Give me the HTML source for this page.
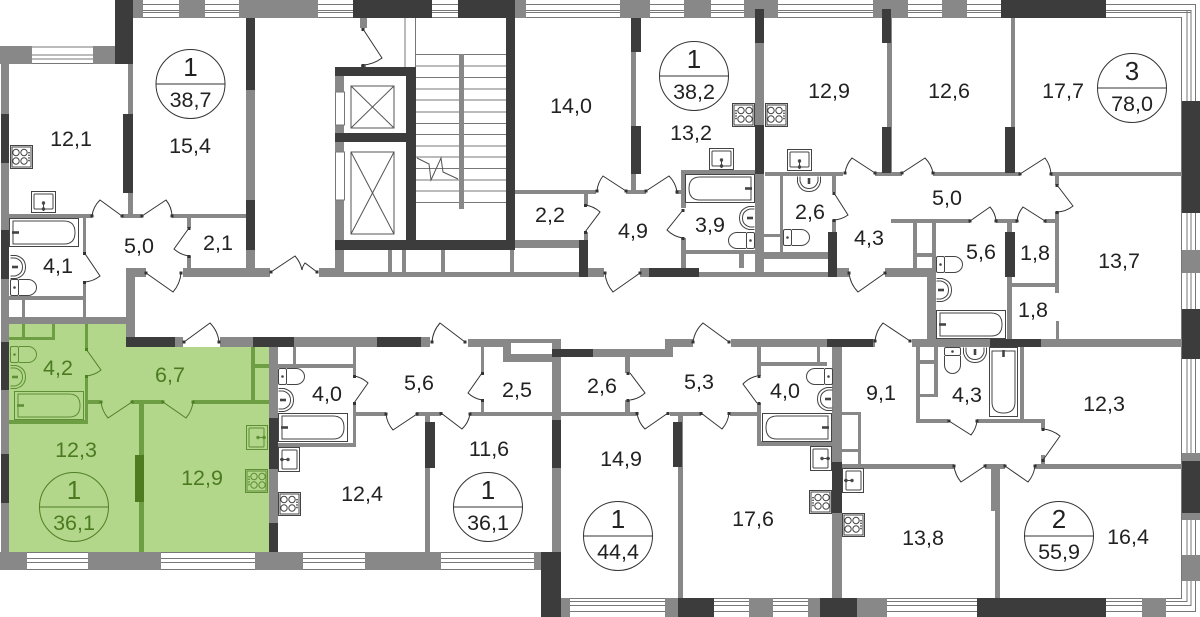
<!DOCTYPE html>
<html><head><meta charset="utf-8"><style>
html,body{margin:0;padding:0;background:#fff}
svg{display:block}
text{font-family:"Liberation Sans",sans-serif;font-size:21.5px;text-anchor:middle;fill:#222;stroke:none}
.g text,text.g{fill:#4c7a20}
text.b{font-size:26px}
</style></head><body>
<svg width="1200" height="617" viewBox="0 0 1200 617" xmlns="http://www.w3.org/2000/svg">
<defs>
<g id="stove" fill="none" stroke-width="1"><rect x=".5" y=".5" width="22" height="23"/><rect x="2" y="2" width="19" height="20"/><circle cx="6" cy="7.500" r="3.200"/><circle cx="14" cy="7.500" r="3.200"/><circle cx="6" cy="16" r="3.200"/><circle cx="14" cy="16" r="3.200"/><path d="M19 7v10" stroke-width="1.600" stroke-dasharray="1.400 1.200"/></g>
<g id="sink" fill="none" stroke-width="1"><rect x=".5" y=".5" width="24" height="21"/><rect x="3" y="3" width="19" height="15" rx="1"/><path d="M12.500 11v9"/><circle cx="12.500" cy="12" r="1.200"/><circle cx="12.500" cy="18" r="1.200"/></g>
<g id="bath" fill="none" stroke-width="1"><rect x=".5" y=".5" width="69" height="28"/><path d="M4 3H55Q66 3 66 14.500T55 26H4Z"/><path d="M3 14.500H10" stroke-width="2.600"/></g>
<g id="toilet" fill="none" stroke-width="1"><rect x=".5" y=".5" width="8" height="16" rx="1.500"/><path d="M9 .5H18A8.500 8 0 0 1 18 16.500H9"/><circle cx="4.500" cy="8.500" r=".8" fill="#444"/></g>
<g id="basin" fill="none" stroke-width="1"><path d="M.5 .5H6Q15.500 3 15.500 12T6 23.500H.5"/><path d="M.5 3H5Q12.500 5 12.500 12T5 21H.5"/><path d="M2 12H8" stroke-width="2.600"/></g>
</defs>

<polygon points="9,324 126,324 126,347 269,347 269,552 9,552" fill="#b2d68a"/>

<!-- window lines -->
<path fill="none" stroke="#777" stroke-width="1" d="M133 4.500H1195.500V611.500H561M133 10.500H1191V605.500H561M133 12.500H1187V601.500H561M133 17.500H1181.500V598.500H561M1187 10.500H1191V12.500H1187Z
M27 552.500H534M27 558.500H534M27 562.500H534M27 569.500H534
M32 47H93M32 55H93M32 59H93M32 63.500H93
M405 18V67M415.500 18V67"/>
<!-- stairs -->
<path fill="none" stroke="#777" stroke-width="1" d="M416 54.500H506M416 66H506M416 77.500H506M416 89H506M416 100H506M416 112H506M416 123.500H506M416 134.500H506M416 146H506M416 157H506M416 168.500H506M416 180H506M416 191H506M416 202.500H506"/>

<!-- gray walls -->
<path fill="#888" d="M133 0H143V18H133ZM179 0H205V18H179ZM239 0H318V18H239ZM515 0H526V18H515ZM620 0H650V18H620ZM684 0H711V18H684ZM744 0H778V18H744ZM873 0H908V18H873ZM942 0H967V18H942Z
M0 46H32V64H0ZM93 46H115V64H93ZM1 64H9V552H1Z
M128 64H133V215H128ZM246 18H255V272H246ZM9 214H92V218H9ZM122 214H142V218H122ZM172 214H246V218H172ZM83 218H86V253H83ZM83 282H86V300H83ZM9 296H83V300H9ZM22 300H25V317H22ZM83 300H86V317H83ZM9 317H126V324H9ZM126 272H135V339H126ZM187 218H191V228H187ZM187 256H191V268H187ZM126 268H146V277H126ZM183 268H270V277H183ZM319 268H335V277H319ZM335 76H344V272H335ZM388 250H392V272H388ZM402 250H406V272H402ZM441 250H445V272H441ZM510 250H514V272H510ZM335 272H579V277H335ZM515 240H579V248H515ZM360 18H367V28H360ZM361 65H366V67H361ZM459 54H464V209H459Z
M515 190H596V194H515ZM631 18H636V190H631ZM626 190H646V194H626ZM676 190H686V194H676ZM681 170H757V174H681ZM681 174H686V208H681ZM681 238H686V268H681ZM686 250H757V254H686ZM739 254H744V268H739ZM584 194H588V205H584ZM584 232H588V240H584ZM588 268H604V277H588ZM640 268H649V277H640ZM699 272H836V277H699ZM755 9H764V277H755Z
M765 172H843V176H765ZM780 176H783V252H780ZM764 234H780V237H764ZM764 252H828V259H764ZM832 176H836V192H832ZM832 220H836V232H832ZM837 268H849V277H837ZM885 268H932V277H885ZM927 268H936V347H927ZM875 172H902V176H875ZM933 172H1020V176H933ZM1051 172H1182V176H1051ZM887 18H892V173H887ZM1011 18H1015V173H1011ZM1055 176H1059V185H1055ZM1055 212H1059V293H1055ZM1056 321H1059V339H1056ZM891 219H970V223H891ZM996 219H1017V223H996ZM1045 219H1059V223H1045ZM913 223H917V268H913ZM932 223H936V270H932ZM917 253H932V257H917ZM1007 223H1012V347H1007ZM1012 283H1056V287H1012Z
M175 337H183V347H175ZM220 337H253V347H220ZM294 337H377V347H294ZM421 337H430V347H421ZM468 339H503V347H468ZM503 339H511V362H503ZM511 354H552V362H511ZM511 339H561V343H511ZM552 339H561V598H552ZM593 349H673V357H593ZM665 339H673V357H665ZM673 339H693V347H673ZM731 339H827V347H731ZM873 339H875V347H873ZM912 339H990V347H912ZM1041 339H1182V347H1041Z
M832 347H842V598H832ZM817 347H820V362H817ZM757 347H761V376H757ZM761 362H827V366H761ZM757 403H761V445H757ZM757 441H832V446H757ZM842 412H861V415H842ZM858 412H861V465H858ZM842 449H858V452H842ZM842 464H954V469H842ZM985 464H1005V469H985ZM991 469H1000V511H991ZM995 511H1000V598H995ZM1035 464H1182V469H1035ZM1041 455H1045V464H1041ZM1041 420H1045V429H1041ZM916 419H948V423H916ZM977 419H1045V423H977ZM916 347H920V423H916ZM934 347H938V397H934ZM920 394H938V397H920ZM920 360H938V364H920ZM1020 347H1024V420H1020Z
M269 347H278V552H269ZM293 347H296V366H293ZM278 364H354V368H278ZM353 347H356V376H353ZM353 403H356V447H353ZM278 443H356V447H278ZM356 412H386V416H356ZM416 412H441V416H416ZM470 412H637V416H470ZM670 412H701V416H670ZM730 412H757V416H730ZM481 347H484V373H481ZM481 400H484V414H481ZM625 357H630V373H625ZM625 400H630V412H625ZM425 416H430V553H425ZM678 416H683V598H678Z
M0 552H27V570H0ZM88 552H161V570H88ZM255 552H303V570H255ZM365 552H441V570H365ZM534 552H541V570H534Z
M561 598H570V617H561ZM665 598H678V617H665ZM749 598H773V617H749ZM808 598H820V617H808ZM857 598H887V617H857ZM1142 598H1166V617H1142Z
M1182 250H1200V273H1182ZM1182 453H1200V461H1182ZM1182 513H1200V520H1182ZM1182 555H1200V581H1182Z"/>

<!-- dark walls -->
<path fill="#3c3c3c" d="M115 0H133V64H115ZM353 0H432V18H353ZM458 0H515V18H458ZM1001 0H1106V18H1001Z
M1 114H9V163H1ZM1 230H9V279H1ZM1 342H9V390H1ZM1 454H9V503H1Z
M123 114H133V193H123ZM246 18H255V90H246ZM246 200H255V250H246Z
M335 67H416V76H335ZM335 133H416V142H335ZM335 240H515V250H335ZM406 67H416V250H406ZM506 18H515V250H506Z
M631 18H641V52H631ZM631 126H641V174H631ZM579 240H588V277H579ZM649 268H699V277H649ZM755 9H764V43H755ZM755 125H764V174H755ZM828 232H837V277H828Z
M882 9H891V43H882ZM882 127H891V173H882ZM1005 127H1015V173H1005ZM1005 232H1015V277H1005Z
M126 337H175V347H126ZM253 337H294V347H253ZM377 337H421V347H377ZM552 420H561V468H552ZM552 349H593V357H552ZM827 339H873V347H827ZM990 339H1041V347H990Z
M832 462H842V513H832ZM269 418H278V469H269ZM269 523H278V552H269ZM425 422H435V468H425ZM673 422H682V467H673Z
M541 552H561V617H541ZM678 598H714V617H678ZM820 598H857V617H820ZM977 598H1106V617H977Z
M1182 101H1200V213H1182ZM1182 309H1200V359H1182ZM1182 461H1200V513H1182Z"/>

<!-- green walls -->
<path fill="#6e9e44" d="M22 324H25V337H22ZM52 324H55V340H52ZM9 337H55V340H9ZM85 324H88V349H85ZM85 376H88V424H85ZM9 420H88V424H9ZM88 400H100V404H88ZM132 400H163V404H132ZM193 400H269V404H193ZM139 404H144V552H139ZM251 347H255V400H251ZM255 364H269V368H255Z"/>
<rect x="135" y="455" width="9" height="47" fill="#4e7a20"/>

<!-- elevators -->
<g fill="#fff" stroke="#777" stroke-width="1"><rect x="335.500" y="92" width="9" height="33"/><rect x="335.500" y="152" width="9" height="48"/></g>
<g fill="none" stroke="#555" stroke-width="1"><path d="M351 86H394V128H351ZM351 86L394 128M394 86L351 128M351 152H394V234H351ZM351 152L394 234M394 152L351 234"/>
<path d="M417 158L429 164L431 180L441 158L443 172L458 179"/></g>

<!-- doors -->
<path fill="none" stroke="#333" stroke-width="1" d="M122 216L100 200A27 27 0 0 0 92 216M142 216L166 200A27 27 0 0 1 172 216M84.500 253L100 276A28 28 0 0 1 84.500 282M189 228L174 249A28 28 0 0 0 189 256M146 273L173 292A33 33 0 0 0 181 273M271 272L295 256A30 30 0 0 1 302 270M317 272L305 263A15 15 0 0 0 302 270M363 29L382 58A36 36 0 0 1 363 65
M626 191L603 176A28 28 0 0 0 597 191M646 191L669 176A28 28 0 0 1 677 192M585 232L600 212A27 27 0 0 0 585 205M683 210L667 230A28 28 0 0 0 683 238M640 273L613 292A33 33 0 0 1 605 273M875 173L852 158A28 28 0 0 0 845 173M902 173L925 158A28 28 0 0 1 933 173M1020 174L1045 158A29 29 0 0 1 1051 174M1057 185L1073 206A27 27 0 0 1 1057 212M970 221L990 207A24 24 0 0 1 996 221M1045 221L1023 207A26 26 0 0 0 1017 221M834 193L848 215A27 27 0 0 1 834 220M885 273L858 292A33 33 0 0 1 849 273M910 341L883 323A32 32 0 0 0 875 341
M184 342L210 323A32 32 0 0 1 219 342M354 403L368 383A27 27 0 0 0 354 376M417 414L393 430A29 29 0 0 1 386 414M441 413L462 429A27 27 0 0 0 470 414M465 342L440 323A32 32 0 0 0 432 342M482 373L468 393A27 27 0 0 0 482 400M630 373L645 393A27 27 0 0 1 630 400M668 413L645 429A28 28 0 0 1 637 413M701 413L722 429A28 28 0 0 0 729 413M729 342L703 323A32 32 0 0 0 693 342M757 403L743 384A27 27 0 0 1 757 376M949 421L971 435A27 27 0 0 0 977 421M1043 460L1060 436A31 31 0 0 0 1043 429M985 466L961 482A31 31 0 0 1 954 466M1005 466L1028 482A30 30 0 0 0 1035 466"/>
<path fill="none" stroke="#4f7f24" stroke-width="1" d="M86 349L101 370A27 27 0 0 1 86 376M132 402L108 418A30 30 0 0 1 101 402M163 402L186 418A30 30 0 0 0 193 402"/>
<path fill="none" stroke="#333" stroke-width="3" d="M122 214.500v3M92 214.500v3M142 214.500v3M172 214.500v3M84.500 252v3M84.500 281v3M189 227v3M189 255v3M146 271.500v3M181 271.500v3M271 270.500v3M317 270.500v3M363 28v3M363 64v3M626 189.500v3M597 189.500v3M646 189.500v3M677 190.500v3M585.500 231v3M585.500 204v3M683 209v3M683 237v3M640 271.500v3M605 271.500v3M875 171.500v3M845 171.500v3M902 171.500v3M933 171.500v3M1020 172.500v3M1051 172.500v3M1057 184v3M1057 211v3M970 219.500v3M996 219.500v3M1045 219.500v3M1017 219.500v3M834 192v3M834 219v3M885 271.500v3M849 271.500v3M910 339.500v3M875 339.500v3M184 340.500v3M219 340.500v3M354.500 402v3M354.500 375v3M417 412.500v3M386 412.500v3M441 412v3M470 412.500v3M465 340.500v3M432 340.500v3M482.500 372v3M482.500 399v3M628 372v3M628 399v3M668 412v3M637 412v3M701 412v3M729 412v3M729 340.500v3M693 340.500v3M759 402v3M759 375v3M949 419.500v3M977 419.500v3M1043 459v3M1043 428v3M985 464.500v3M954 464.500v3M1005 464.500v3M1035 464.500v3"/>
<path fill="none" stroke="#4f7f24" stroke-width="3" d="M86.500 348v3M86.500 375v3M132 400.500v3M101 400.500v3M163 400.500v3M193 400.500v3"/>

<!-- fixtures -->
<g stroke="#444">
<use href="#stove" x="10" y="145"/>
<use href="#stove" transform="translate(755,103) scale(-1,1)"/>
<use href="#stove" x="765" y="103"/>
<use href="#stove" x="278" y="492"/>
<use href="#stove" transform="translate(832,490) scale(-1,1)"/>
<use href="#stove" x="842" y="513"/>
<use href="#sink" x="31" y="191"/>
<use href="#sink" x="709" y="148"/>
<use href="#sink" x="787" y="149"/>
<use href="#sink" transform="translate(300,447) rotate(90)"/>
<use href="#sink" transform="translate(810,471) rotate(-90)"/>
<use href="#sink" transform="translate(864,468) rotate(90)"/>
<use href="#bath" x="9" y="218"/>
<use href="#bath" transform="translate(755,174) scale(-1,1)"/>
<use href="#bath" x="936" y="310"/>
<use href="#bath" x="278" y="413"/>
<use href="#bath" transform="translate(832,413) scale(-1,1)"/>
<use href="#bath" transform="translate(1018,347) rotate(90)"/>
<use href="#toilet" x="10" y="279"/>
<use href="#toilet" transform="translate(755,232) scale(-1,1)"/>
<use href="#toilet" x="783" y="229"/>
<use href="#toilet" x="936" y="256"/>
<use href="#toilet" transform="translate(961,347) rotate(90)"/>
<use href="#toilet" x="278" y="368"/>
<use href="#toilet" transform="translate(833,368) scale(-1,1)"/>
<use href="#basin" x="10" y="255"/>
<use href="#basin" transform="translate(755,206) scale(-1,1)"/>
<use href="#basin" transform="translate(821,176) rotate(90)"/>
<use href="#basin" x="936" y="278"/>
<use href="#basin" transform="translate(987,347) rotate(90)"/>
<use href="#basin" x="278" y="388"/>
<use href="#basin" transform="translate(833,387) scale(-1,1)"/>
</g>
<g stroke="#5e8f34">
<use href="#stove" transform="translate(268,469) scale(-1,1)"/>
<use href="#sink" transform="translate(246,450) rotate(-90)"/>
<use href="#bath" x="14" y="391"/>
<use href="#toilet" x="10" y="346"/>
<use href="#basin" x="10" y="365"/>
</g>

<!-- circles -->
<g fill="none" stroke="#333" stroke-width="1">
<circle cx="190.500" cy="84" r="34.500"/><path d="M156 84H225"/>
<circle cx="694" cy="76" r="34.500"/><path d="M659.500 76H728.500"/>
<circle cx="1132" cy="88" r="34.500"/><path d="M1097.500 88H1166.500"/>
<circle cx="488" cy="507" r="34.500"/><path d="M453.500 507H522.500"/>
<circle cx="618" cy="536" r="34.500"/><path d="M583.500 536H652.500"/>
<circle cx="1059" cy="536" r="34.500"/><path d="M1024.500 536H1093.500"/>
</g>
<g fill="none" stroke="#4f7f24" stroke-width="1"><circle cx="74" cy="507" r="34.500"/><path d="M39.500 507H108.500"/></g>

<!-- labels -->
<text class="b" x="190.500" y="76">1</text><text x="190.500" y="107">38,7</text>
<text class="b" x="694" y="68">1</text><text x="694" y="99">38,2</text>
<text class="b" x="1132" y="80">3</text><text x="1132" y="111">78,0</text>
<text class="b" x="488" y="499">1</text><text x="488" y="530">36,1</text>
<text class="b" x="618" y="528">1</text><text x="618" y="559">44,4</text>
<text class="b" x="1059" y="528">2</text><text x="1059" y="559">55,9</text>
<text x="71" y="146">12,1</text><text x="190" y="153">15,4</text><text x="139" y="253">5,0</text><text x="218" y="250">2,1</text><text x="58" y="273">4,1</text>
<text x="571" y="113">14,0</text><text x="691" y="140">13,2</text><text x="550" y="222">2,2</text><text x="633" y="238">4,9</text><text x="710" y="232">3,9</text>
<text x="829" y="98">12,9</text><text x="949" y="98">12,6</text><text x="1063" y="98">17,7</text><text x="947" y="205">5,0</text><text x="810" y="219">2,6</text><text x="869" y="245">4,3</text><text x="981" y="259">5,6</text><text x="1035" y="260">1,8</text><text x="1033" y="317">1,8</text><text x="1119" y="268">13,7</text>
<text x="327" y="401">4,0</text><text x="362" y="501">12,4</text><text x="419" y="390">5,6</text><text x="517" y="397">2,5</text><text x="489" y="456">11,6</text><text x="602" y="393">2,6</text><text x="699" y="389">5,3</text><text x="621" y="466">14,9</text><text x="753" y="526">17,6</text><text x="785" y="398">4,0</text><text x="881" y="400">9,1</text><text x="967" y="402">4,3</text><text x="1104" y="411">12,3</text><text x="923" y="545">13,8</text><text x="1128" y="544">16,4</text>
<text class="g" x="58" y="375">4,2</text><text class="g" x="170" y="382">6,7</text><text class="g" x="76" y="457">12,3</text><text class="g" x="202" y="485">12,9</text>
<text class="g b" x="74" y="499">1</text><text class="g" x="74" y="530">36,1</text>
</svg>
</body></html>
